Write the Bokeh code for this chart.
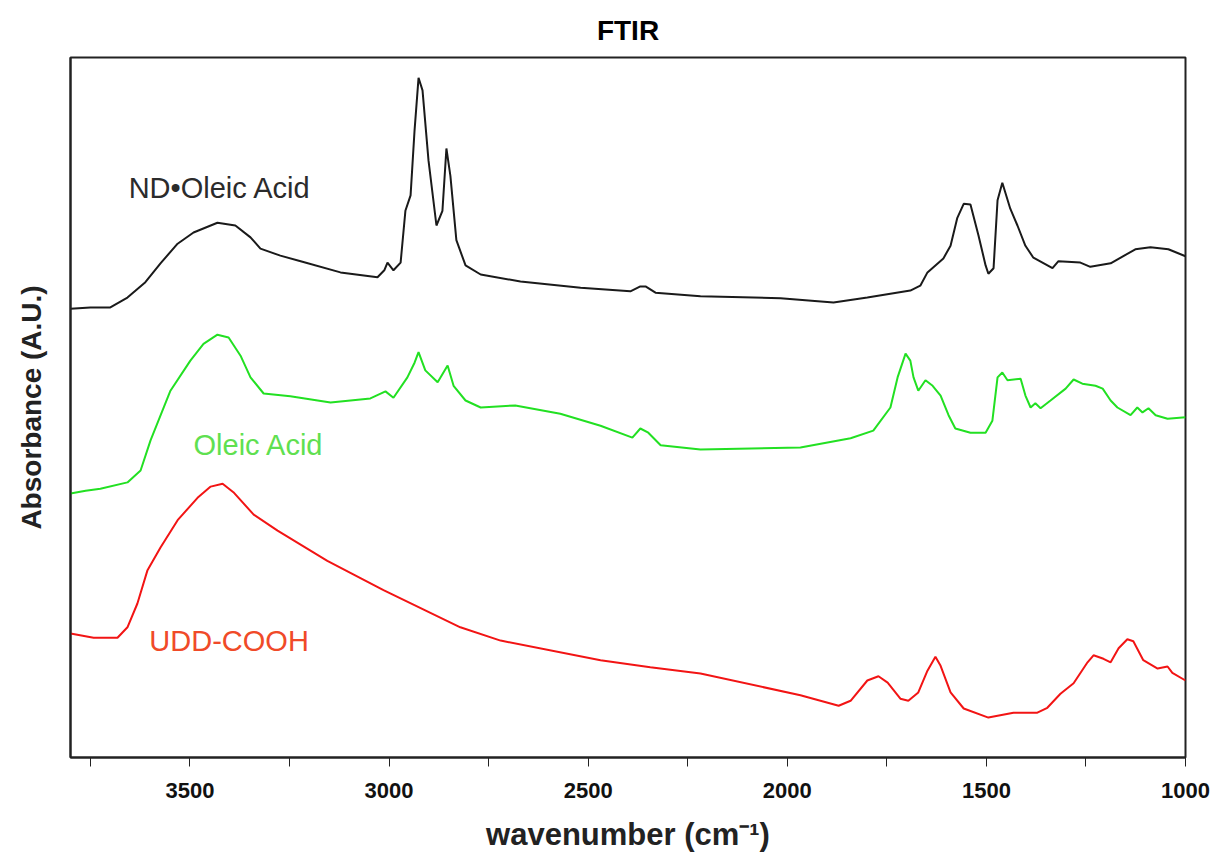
from bokeh.plotting import figure
from bokeh.models import Range1d, FixedTicker, Label
from bokeh.embed import file_html
from bokeh.resources import INLINE

# ---- data (wavenumber in cm^-1, absorbance in arbitrary units) ----
nd_wn = [3800, 3750, 3700, 3657, 3612, 3574, 3531, 3491, 3431, 3386, 3348, 3323, 3273, 3222,
         3122, 3029, 3012, 3004, 2989, 2971, 2959, 2946, 2936, 2926, 2916, 2901, 2881, 2866,
         2856, 2846, 2831, 2808, 2770, 2670, 2519, 2394, 2369, 2356, 2331, 2218, 2017, 1884,
         1799, 1691, 1666, 1648, 1608, 1590, 1573, 1557, 1540, 1520, 1502, 1495, 1482, 1472,
         1460, 1440, 1422, 1402, 1382, 1334, 1319, 1264, 1239, 1188, 1126, 1088, 1043, 1000]
nd_abs = [64.1, 64.3, 64.3, 65.7, 67.9, 70.6, 73.4, 75.0, 76.4, 76.0, 74.3, 72.7, 71.7, 70.9,
          69.3, 68.6, 69.6, 70.7, 69.6, 70.7, 78.1, 80.3, 89.6, 97.1, 95.3, 85.3, 76.0, 78.1,
          87.0, 83.1, 73.9, 70.3, 69.0, 68.0, 67.1, 66.6, 67.3, 67.3, 66.4, 65.9, 65.6, 65.0,
          65.7, 66.7, 67.4, 69.3, 71.3, 73.1, 77.1, 79.1, 79.0, 74.6, 70.3, 69.1, 69.9, 79.6,
          82.1, 78.4, 76.0, 73.1, 71.4, 69.9, 70.9, 70.7, 70.1, 70.6, 72.6, 72.9, 72.6, 71.6]

oa_wn = [3800, 3762, 3725, 3657, 3624, 3599, 3549, 3499, 3466, 3431, 3403, 3373, 3348, 3315,
         3248, 3147, 3047, 3009, 2989, 2954, 2936, 2926, 2909, 2878, 2853, 2838, 2808, 2770,
         2683, 2570, 2469, 2389, 2369, 2349, 2318, 2218, 1967, 1841, 1784, 1741, 1723, 1703,
         1691, 1683, 1671, 1653, 1635, 1615, 1595, 1578, 1540, 1502, 1485, 1472, 1460, 1447,
         1414, 1402, 1389, 1377, 1364, 1339, 1301, 1281, 1259, 1226, 1208, 1188, 1171, 1138,
         1121, 1108, 1093, 1075, 1045, 1000]
oa_abs = [37.7, 38.1, 38.4, 39.3, 41.0, 45.3, 52.4, 56.7, 59.1, 60.4, 60.0, 57.4, 54.3, 52.0,
          51.6, 50.7, 51.3, 52.3, 51.4, 54.3, 56.4, 57.9, 55.3, 53.6, 56.0, 53.1, 51.0, 50.0,
          50.3, 49.1, 47.4, 45.7, 47.0, 46.4, 44.6, 44.0, 44.3, 45.6, 46.7, 50.0, 54.3, 57.7,
          56.7, 54.3, 52.4, 53.9, 53.1, 51.7, 48.9, 47.0, 46.4, 46.4, 48.1, 54.3, 55.0, 53.9,
          54.1, 51.7, 50.0, 50.6, 49.9, 51.0, 52.7, 54.0, 53.4, 53.1, 52.7, 51.0, 50.0, 48.9,
          50.0, 49.3, 49.9, 48.9, 48.4, 48.6]

udd_wn = [3800, 3742, 3682, 3657, 3632, 3607, 3574, 3531, 3481, 3448, 3418, 3391, 3340, 3280,
          3155, 3014, 2821, 2720, 2469, 2344, 2218, 1967, 1871, 1841, 1799, 1771, 1748, 1716,
          1696, 1671, 1648, 1628, 1615, 1590, 1557, 1495, 1432, 1372, 1347, 1314, 1281, 1246,
          1231, 1206, 1188, 1168, 1146, 1131, 1106, 1070, 1045, 1033, 1000]
udd_abs = [17.7, 17.1, 17.1, 18.6, 22.0, 26.7, 30.0, 33.9, 37.1, 38.7, 39.1, 37.9, 34.7, 32.4,
           28.1, 23.9, 18.6, 16.7, 13.9, 12.9, 12.0, 8.9, 7.4, 8.1, 11.0, 11.6, 10.7, 8.4,
           8.1, 9.3, 12.4, 14.4, 13.1, 9.3, 7.0, 5.7, 6.4, 6.4, 7.1, 9.1, 10.6, 13.6,
           14.6, 14.1, 13.6, 15.6, 16.9, 16.6, 13.9, 12.7, 13.0, 12.1, 11.0]

title_text = "FTIR"
series_names = ["ND\u2022Oleic Acid", "Oleic Acid", "UDD-COOH"]
major_ticks = [3500, 3000, 2500, 2000, 1500, 1000]
minor_ticks = [3750, 3250, 2750, 2250, 1750, 1250]

# ---- figure ----
p = figure(output_backend="svg", toolbar_location=None,
           frame_width=1115, frame_height=700,
           min_border_left=70, min_border_right=25, min_border_top=57, min_border_bottom=80,
           x_range=Range1d(3800, 1000), y_range=Range1d(0, 100),
           title=title_text)
p.title.align = "center"
p.title.vertical_align = "top"
p.title.text_font = "Liberation Sans"
p.title.text_font_style = "bold"
p.title.text_font_size = "28px"
p.title.text_color = "#000000"
p.title.standoff = 20

p.background_fill_color = "white"
p.border_fill_color = "white"
p.outline_line_color = "#222222"
p.outline_line_width = 2
p.grid.visible = False

xa = p.xaxis[0]
xa.ticker = FixedTicker(ticks=major_ticks, minor_ticks=minor_ticks)
xa.axis_label = "wavenumber (cm\u207b\u00b9)"
xa.axis_label_text_font = "Liberation Sans"
xa.axis_label_text_font_style = "bold"
xa.axis_label_text_font_size = "31px"
xa.axis_label_text_color = "#222222"
xa.axis_label_standoff = 16
xa.major_label_text_font = "Liberation Sans"
xa.major_label_text_font_style = "bold"
xa.major_label_text_font_size = "22px"
xa.major_label_text_color = "#111111"
xa.major_label_standoff = 16
xa.major_tick_in = 0
xa.major_tick_out = 9
xa.minor_tick_in = 0
xa.minor_tick_out = 9
xa.axis_line_width = 2
xa.axis_line_color = "#222222"
xa.major_tick_line_color = "#222222"
xa.minor_tick_line_color = "#222222"

ya = p.yaxis[0]
ya.axis_label = "Absorbance (A.U.)"
ya.axis_label_text_font = "Liberation Sans"
ya.axis_label_text_font_style = "bold"
ya.axis_label_text_font_size = "28px"
ya.axis_label_text_color = "#222222"
ya.axis_label_standoff = 24
ya.major_label_text_font_size = "0px"
ya.major_tick_line_color = None
ya.minor_tick_line_color = None
ya.axis_line_width = 2
ya.axis_line_color = "#222222"
ya.ticker = FixedTicker(ticks=[])

p.line(nd_wn, nd_abs, line_color="#1a1a1a", line_width=2)
p.line(oa_wn, oa_abs, line_color="#22e022", line_width=2)
p.line(udd_wn, udd_abs, line_color="#f21414", line_width=2)

label_style = dict(text_font="Liberation Sans", text_font_size="29px", text_baseline="middle",
                   text_align="left")
p.add_layout(Label(x=3654, y=81.4, text=series_names[0], text_color="#2b2b2b", **label_style))
p.add_layout(Label(x=3491, y=44.6, text=series_names[1], text_color="#5fe050", **label_style))
p.add_layout(Label(x=3602, y=16.7, text=series_names[2], text_color="#f04a28", **label_style))

open("out.html", "w").write(file_html(p, INLINE))
